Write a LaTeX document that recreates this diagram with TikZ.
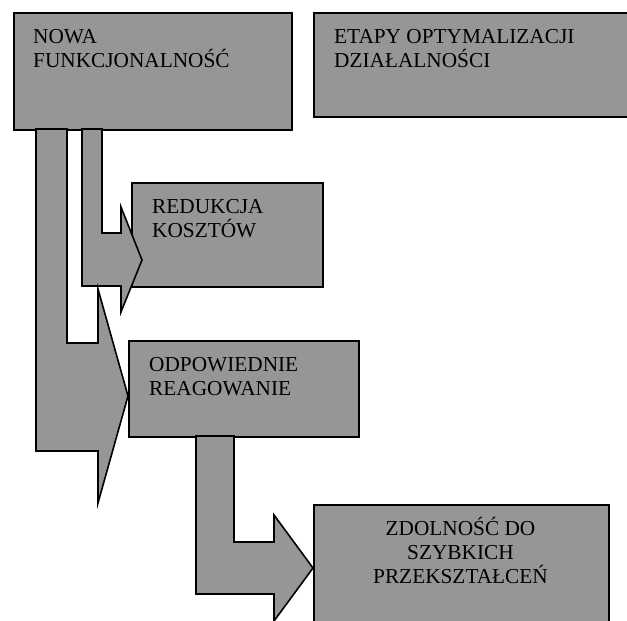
\documentclass[tikz,border=0pt]{standalone}
\usepackage{fontspec}
\setmainfont{Liberation Serif}
\definecolor{boxgray}{RGB}{150,150,150}
\begin{document}
\begin{tikzpicture}[x=1pt,y=-1pt,
  box/.style={draw=black, fill=boxgray, line width=1.6pt, rectangle, inner sep=0pt, anchor=north west},
  blockarrow/.style={draw=black, fill=boxgray, line width=1.6pt, line join=miter},
  lbl/.style={font=\fontsize{21.3}{24}\selectfont, inner sep=0pt, align=left, anchor=base west},
  lblc/.style={font=\fontsize{21.3}{24}\selectfont, inner sep=0pt, align=center, anchor=base}]
\useasboundingbox (0,0) rectangle (627,621);
% boxes
\node[box, minimum width=278pt, minimum height=117pt] (b1) at (13,12) {};
\node[box, minimum width=327pt, minimum height=104pt] (b2) at (313,12) {};
\node[box, minimum width=191pt, minimum height=104pt] (b3) at (131,182) {};
% arrow to REDUKCJA
\draw[blockarrow] (82,129) -- (82,286) -- (121,286) -- (121,312) -- (142,260) -- (121,207) -- (121,233) -- (102,233) -- (102,129) -- cycle;
\node[box, minimum width=230pt, minimum height=96pt] (b4) at (128,340) {};
% arrow to ODPOWIEDNIE
\draw[blockarrow] (36,129) -- (36,451) -- (98,451) -- (98,503) -- (128,396) -- (98,289) -- (98,343) -- (67,343) -- (67,129) -- cycle;
\node[box, minimum width=295pt, minimum height=136pt] (b5) at (313,504) {};
% arrow to ZDOLNOSC
\draw[blockarrow] (196,436) -- (196,594) -- (274,594) -- (274,621) -- (313,568) -- (274,515) -- (274,542) -- (234,542) -- (234,436) -- cycle;
% labels (base anchor = baseline of last line)
\node[lbl] (t1) at (33,67) {NOWA\\FUNKCJONALNOŚĆ};
\node[lbl] (t2) at (334,67) {ETAPY OPTYMALIZACJI\\DZIAŁALNOŚCI};
\node[lbl] (t3) at (152,237) {REDUKCJA\\KOSZTÓW};
\node[lbl] (t4) at (149,395) {ODPOWIEDNIE\\REAGOWANIE};
\node[lblc] (t5) at (460.5,583) {ZDOLNOŚĆ DO\\SZYBKICH\\PRZEKSZTAŁCEŃ};
\end{tikzpicture}
\end{document}
